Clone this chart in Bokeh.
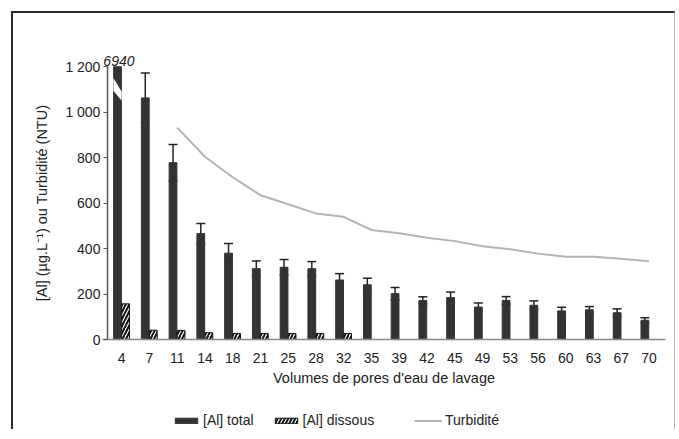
import numpy as np
from bokeh.plotting import figure
from bokeh.layouts import column, row
from bokeh.models import (ColumnDataSource, Range1d, FixedTicker, Whisker, TeeHead,
                          Legend, LegendItem, Label, Spacer)
from bokeh.embed import file_html
from bokeh.resources import INLINE

# ---------------- data ----------------
categories = ["4", "7", "11", "14", "18", "21", "25", "28", "32", "35",
              "39", "42", "45", "49", "53", "56", "60", "63", "67", "70"]
al_total = [6940, 1063, 778, 466, 380, 312, 318, 312, 262, 241,
            202, 172, 185, 143, 172, 151, 126, 131, 118, 85]
al_total_sd = [None, 110, 80, 45, 42, 34, 34, 31, 28, 29,
               27, 16, 24, 18, 17, 19, 16, 14, 17, 11]
al_dissous = [157, 41, 40, 30, 27, 27, 27, 27, 27, None,
              None, None, None, None, None, None, None, None, None, None]
turbidite = [None, None, 932, 804, 714, 635, 595, 555, 540, 482,
             468, 448, 433, 410, 397, 378, 364, 364, 355, 344]
y_ticks = [0, 200, 400, 600, 800, 1000, 1200]

# ---------------- layout / style constants ----------------
Y_MAX = 1200
FONT = "Liberation Sans"
TXT = "#222222"
BAR_DARK = "#333333"
W = 0.28
OFF_T, OFF_D = -0.15, 0.14
BREAK_LO, BREAK_HI = 1055, 1150

SHIFT = 11                 # spacer offset of the figure on the page
CW, CH = 664, 418          # figure box size (incl. CSS borders)
BW_L, BW_R, BW_T = 2, 1, 2  # css border widths
OX, OY = 14, 14            # canvas origin on the page
X0_PX, DX_PX = 121.7, 27.63  # page x of first category, spacing
Y0_PX, YS_PX = 338.5, 0.22625  # page y of value 0, px per unit

canvas_w = CW - BW_L - BW_R
canvas_h = CH - BW_T
x = np.arange(len(categories), dtype=float)
x_start = (OX - X0_PX) / DX_PX
x_end = (OX + canvas_w - X0_PX) / DX_PX
y_end = (Y0_PX - OY) / YS_PX
y_start = (Y0_PX - (OY + canvas_h)) / YS_PX
yaxis_loc = (107.5 - X0_PX) / DX_PX

p = figure(width=CW, height=CH, output_backend="svg", toolbar_location=None,
           x_range=Range1d(x_start, x_end), y_range=Range1d(y_start, y_end),
           min_border=0)
p.styles = {"border-top": f"{BW_T}px solid #2a2a2a", "border-left": f"{BW_L}px solid #2a2a2a",
            "border-right": f"{BW_R}px solid #b8b8b8"}
p.outline_line_color = None
p.grid.visible = False
p.background_fill_color = "white"
p.border_fill_color = "white"

# total bars (clipped at axis top)
tot_top = [min(v, Y_MAX) for v in al_total]
src_t = ColumnDataSource(dict(x=x + OFF_T, top=tot_top))
r_tot = p.vbar(x="x", top="top", bottom=0, width=W, source=src_t,
               fill_color=BAR_DARK, line_color=BAR_DARK)

# dissolved bars
idx_d = [i for i, v in enumerate(al_dissous) if v is not None]
src_d = ColumnDataSource(dict(x=x[idx_d] + OFF_D, top=[al_dissous[i] for i in idx_d]))
r_dis = p.vbar(x="x", top="top", bottom=0, width=W, source=src_d,
               fill_color="white", line_color="#111111", line_width=1,
               hatch_pattern="/", hatch_color="#111111", hatch_weight=2, hatch_scale=7)

# error bars
idx_e = [i for i, v in enumerate(al_total_sd) if v is not None]
src_e = ColumnDataSource(dict(
    x=x[idx_e] + OFF_T,
    lo=[al_total[i] - al_total_sd[i] for i in idx_e],
    hi=[al_total[i] + al_total_sd[i] for i in idx_e]))
wh = Whisker(base="x", lower="lo", upper="hi", source=src_e, dimension="height",
             line_color="#222222", line_width=1.5,
             upper_head=TeeHead(size=9, line_color="#222222", line_width=1.5),
             lower_head=TeeHead(size=9, line_color="#555555", line_width=1.5))
p.add_layout(wh)

# break marks + label for off-scale bars
for i, v in enumerate(al_total):
    if v > Y_MAX:
        xl, xr = x[i] + OFF_T - W / 2 - 0.01, x[i] + OFF_T + W / 2 + 0.01
        p.patch([xl, xl, xr, xr], [BREAK_LO + 40, BREAK_HI, BREAK_LO + 35, BREAK_LO - 5],
                fill_color="white", line_color=None)
        p.add_layout(Label(x=x[i] + OFF_T + 0.05, y=Y_MAX, text=str(v), text_align="center",
                           text_baseline="bottom", y_offset=1, text_font=FONT,
                           text_font_size="14px", text_font_style="italic", text_color=TXT))

# turbidity line
turb = [np.nan if v is None else v for v in turbidite]
r_tur = p.line(x, turb, line_color="#b4b4b4", line_width=2)

# ---------------- axes ----------------
p.xaxis.fixed_location = 0
p.xaxis.bounds = (-0.68, len(categories) - 0.4)
p.xaxis.ticker = FixedTicker(ticks=list(x))
p.xaxis.major_label_overrides = {float(i): c for i, c in zip(x, categories)}
p.xaxis.major_tick_line_color = None
p.xaxis.minor_tick_line_color = None
p.xaxis.axis_line_color = "#8a8a8a"
p.xaxis.axis_line_width = 1.5
p.xaxis.major_label_standoff = 7
p.xaxis.axis_label = "Volumes de pores d'eau de lavage"
p.xaxis.axis_label_standoff = 4

p.yaxis.fixed_location = yaxis_loc
p.yaxis.ticker = FixedTicker(ticks=y_ticks)
p.yaxis.bounds = (0, Y_MAX)
p.yaxis.major_label_overrides = {t: f"{t:,}".replace(",", " ") for t in y_ticks}
p.yaxis.minor_tick_line_color = None
p.yaxis.major_tick_out = 4
p.yaxis.major_tick_in = 0
p.yaxis.major_tick_line_color = "#555555"
p.yaxis.axis_line_color = "#555555"
p.yaxis.axis_line_width = 1.5
p.yaxis.major_label_standoff = 3
p.yaxis.axis_label = "[Al] (µg.L\u207b\u00b9) ou Turbidité (NTU)"
p.yaxis.axis_label_standoff = 12

for ax in (p.xaxis, p.yaxis):
    ax.major_label_text_font = FONT
    ax.major_label_text_font_size = "14px"
    ax.major_label_text_color = TXT
    ax.axis_label_text_font = FONT
    ax.axis_label_text_font_size = "14.5px"
    ax.axis_label_text_font_style = "normal"
    ax.axis_label_text_color = TXT

# ---------------- legends (inside the full-canvas frame) ----------------
def mk_legend(items, loc, spacing):
    return Legend(items=items, orientation="horizontal", location=loc,
                  glyph_width=28, glyph_height=7, label_standoff=3, spacing=spacing,
                  padding=0, margin=0, border_line_color=None, background_fill_alpha=0,
                  label_text_font=FONT, label_text_font_size="14px", label_text_color=TXT,
                  label_height=14)

LEG_BOTTOM = 427
p.add_layout(mk_legend([LegendItem(label="[Al] total", renderers=[r_tot]),
                        LegendItem(label="[Al] dissous", renderers=[r_dis])],
                       (173 - OX, OY + canvas_h - LEG_BOTTOM), 18))
p.add_layout(mk_legend([LegendItem(label="Turbidité", renderers=[r_tur])],
                       (415 - OX, OY + canvas_h - LEG_BOTTOM), 0))

layout = column(Spacer(height=SHIFT), row(Spacer(width=SHIFT), p))
open("out.html", "w").write(file_html(layout, INLINE))
